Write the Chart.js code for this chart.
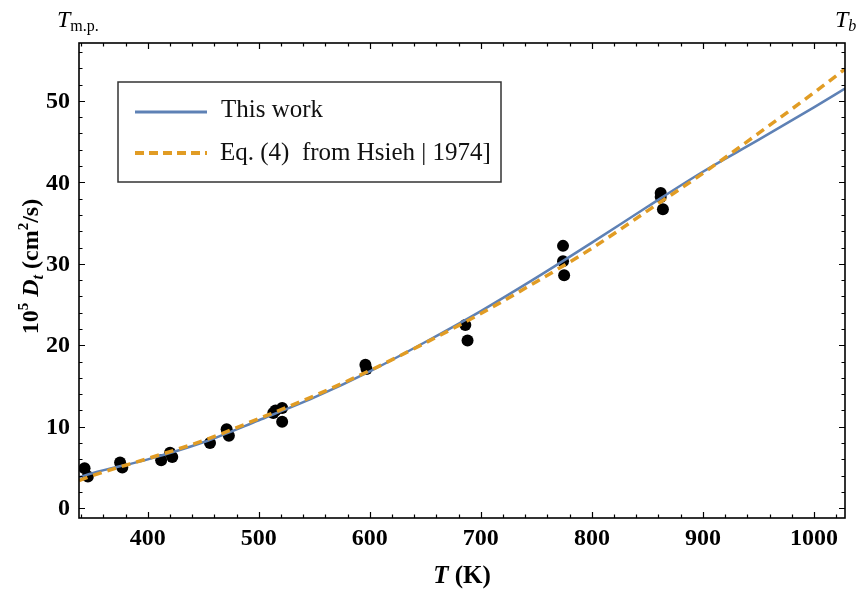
<!DOCTYPE html>
<html>
<head>
<meta charset="utf-8">
<script src="https://cdn.jsdelivr.net/npm/chart.js@4.4.1/dist/chart.umd.min.js"></script>
<style>
  html, body { margin: 0; padding: 0; background: #fff; }
</style>
</head>
<body>
<canvas id="chart" width="856" height="590"></canvas>
<script>
// ── Data ──
const measT = [343, 346, 375, 377, 412, 420, 422, 456, 471, 473, 513, 515, 521, 521, 596, 597, 686, 688, 774, 774, 775, 862, 862, 864];
const measD = [4.9, 3.9, 5.6, 5.0, 5.9, 6.8, 6.3, 8.0, 9.7, 8.9, 11.7, 12.0, 12.3, 10.6, 17.6, 17.1, 22.5, 20.6, 32.2, 30.3, 28.6, 38.7, 38.2, 36.7];

const curveT   = [338, 350, 400, 450, 500, 550, 600, 650, 700, 750, 800, 850, 900, 950, 1000, 1028];
const thisWork = [3.8, 4.3, 6.0, 8.1, 10.8, 13.6, 16.8, 20.4, 24.2, 28.3, 32.6, 37.0, 41.3, 45.2, 49.2, 51.5];
const hsieh    = [3.4, 4.0, 6.1, 8.3, 11.0, 13.8, 16.9, 20.3, 23.9, 27.8, 31.9, 36.5, 41.1, 46.0, 51.0, 53.9];

const xTicks = [400, 500, 600, 700, 800, 900, 1000];
const yTicks = [0, 10, 20, 30, 40, 50];
const X_MIN = 338, X_MAX = 1028, Y_MIN = -1.2, Y_MAX = 57.1;

const BLUE = '#5e81b5';
const ORANGE = '#e19c24';
const SERIF = '"Liberation Serif", "Times New Roman", serif';

const toXY = (xs, ys) => xs.map((v, i) => ({ x: v, y: ys[i] }));

// draw a run of text pieces: [text, font, dy]
function drawRich(ctx, parts, x, y, align) {
  let total = 0;
  parts.forEach(p => { ctx.font = p[1]; total += ctx.measureText(p[0]).width; });
  let cx = align === 'center' ? x - total / 2 : x;
  ctx.textAlign = 'left';
  parts.forEach(p => {
    ctx.font = p[1];
    ctx.fillText(p[0], cx, y + (p[2] || 0));
    cx += ctx.measureText(p[0]).width;
  });
}

const framePlugin = {
  id: 'frame',
  afterDraw(chart) {
    const { ctx, chartArea: a, scales: { x, y } } = chart;
    ctx.save();
    ctx.strokeStyle = '#000';
    ctx.fillStyle = '#000';

    // frame
    ctx.lineWidth = 1.6;
    ctx.strokeRect(a.left, a.top, a.right - a.left, a.bottom - a.top);

    // ticks, pointing inward on all four sides
    ctx.lineWidth = 1.2;
    ctx.beginPath();
    for (let v = 340; v <= 1020; v += 20) {
      const px = Math.round(x.getPixelForValue(v)) + 0.5;
      const len = xTicks.includes(v) ? 6 : 3.5;
      ctx.moveTo(px, a.bottom); ctx.lineTo(px, a.bottom - len);
      ctx.moveTo(px, a.top); ctx.lineTo(px, a.top + len);
    }
    for (let v = 0; v <= 56; v += 2) {
      const py = Math.round(y.getPixelForValue(v)) + 0.5;
      const len = yTicks.includes(v) ? 6 : 3.5;
      ctx.moveTo(a.left, py); ctx.lineTo(a.left + len, py);
      ctx.moveTo(a.right, py); ctx.lineTo(a.right - len, py);
    }
    ctx.stroke();

    // tick labels
    ctx.font = `bold 24px ${SERIF}`;
    ctx.textBaseline = 'middle';
    ctx.textAlign = 'center';
    xTicks.forEach(v => ctx.fillText(String(v), x.getPixelForValue(v), a.bottom + 21));
    ctx.textAlign = 'right';
    yTicks.forEach(v => ctx.fillText(String(v), a.left - 9, y.getPixelForValue(v) + 1));

    // axis titles
    ctx.textBaseline = 'alphabetic';
    drawRich(ctx, [
      ['T', `italic bold 25px ${SERIF}`],
      [' (K)', `bold 25px ${SERIF}`],
    ], (a.left + a.right) / 2, 583, 'center');

    ctx.save();
    ctx.translate(38, (a.top + a.bottom) / 2 - 14);
    ctx.rotate(-Math.PI / 2);
    drawRich(ctx, [
      ['10', `bold 24px ${SERIF}`],
      ['5', `bold 15px ${SERIF}`, -10],
      [' D', `italic bold 24px ${SERIF}`],
      ['t', `italic bold 16px ${SERIF}`, 5],
      [' (cm', `bold 24px ${SERIF}`],
      ['2', `bold 15px ${SERIF}`, -10],
      ['/s)', `bold 24px ${SERIF}`],
    ], 0, 0, 'center');
    ctx.restore();

    // melting / boiling point marks above the frame
    drawRich(ctx, [
      ['T', `italic 24px ${SERIF}`],
      ['m.p.', `16px ${SERIF}`, 4],
    ], x.getPixelForValue(X_MIN) - 22, 27, 'left');
    drawRich(ctx, [
      ['T', `italic 24px ${SERIF}`],
      ['b', `italic 16px ${SERIF}`, 4],
    ], x.getPixelForValue(X_MAX) - 10, 27, 'left');

    // legend
    ctx.fillStyle = '#fff';
    ctx.fillRect(118, 82, 383, 100);
    ctx.strokeStyle = '#333';
    ctx.lineWidth = 1.5;
    ctx.strokeRect(118, 82, 383, 100);

    ctx.lineWidth = 3;
    ctx.strokeStyle = BLUE;
    ctx.beginPath(); ctx.moveTo(135, 112); ctx.lineTo(207, 112); ctx.stroke();
    ctx.lineWidth = 4;
    ctx.strokeStyle = ORANGE;
    ctx.setLineDash([9, 5]);
    ctx.beginPath(); ctx.moveTo(135, 153); ctx.lineTo(207, 153); ctx.stroke();
    ctx.setLineDash([]);

    ctx.fillStyle = '#111';
    ctx.font = `25px ${SERIF}`;
    ctx.textAlign = 'left';
    ctx.textBaseline = 'middle';
    ctx.fillText('This work', 221, 110);
    ctx.fillText('Eq. (4)  from Hsieh | 1974]', 220, 153);

    ctx.restore();
  }
};

new Chart(document.getElementById('chart'), {
  type: 'scatter',
  data: {
    datasets: [
      {
        label: 'Eq. (4) from Hsieh [1974]',
        data: toXY(curveT, hsieh),
        showLine: true,
        borderColor: ORANGE,
        borderWidth: 3.5,
        borderDash: [9, 6],
        pointRadius: 0,
        cubicInterpolationMode: 'monotone',
      },
      {
        label: 'This work',
        data: toXY(curveT, thisWork),
        showLine: true,
        borderColor: BLUE,
        borderWidth: 2.5,
        pointRadius: 0,
        cubicInterpolationMode: 'monotone',
      },
      {
        label: 'Experiment',
        data: toXY(measT, measD),
        pointRadius: 6,
        pointBackgroundColor: '#000',
        pointBorderWidth: 0,
      },
    ],
  },
  options: {
    responsive: false,
    animation: false,
    layout: { padding: { left: 79, right: 11, top: 43, bottom: 72 } },
    plugins: { legend: { display: false }, tooltip: { enabled: false } },
    scales: {
      x: { type: 'linear', min: X_MIN, max: X_MAX, display: false },
      y: { type: 'linear', min: Y_MIN, max: Y_MAX, display: false },
    },
  },
  plugins: [framePlugin],
});
</script>
</body>
</html>
